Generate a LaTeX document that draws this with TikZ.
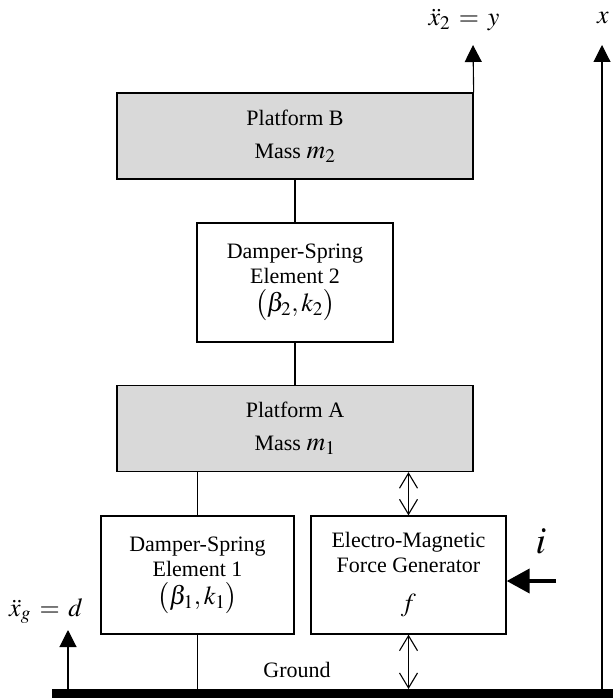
\documentclass[tikz,border=0pt]{standalone}
\usepackage{mathptmx}
\usepackage{fontspec}
\setmainfont{Liberation Serif}
\usetikzlibrary{arrows.meta}
\definecolor{platgray}{RGB}{217,217,217}
\newcommand{\mth}[1]{{\fontsize{26}{30}\selectfont$#1$}}
\begin{document}
\begin{tikzpicture}[x=1pt,y=-1pt,
  plat/.style={draw, fill=platgray, line width=1.3pt, minimum width=356pt, minimum height=86pt,
    inner sep=0pt, align=center, font=\fontsize{22}{33}\selectfont},
  blk/.style={draw, fill=white, line width=1.3pt, inner sep=0pt, align=center,
    font=\fontsize{22}{25}\selectfont},
  conn/.style={line width=1.1pt},
  dbl/.style={line width=1.1pt, {Straight Barb[length=15pt,width=18pt,line width=1.1pt]}-{Straight Barb[length=15pt,width=18pt,line width=1.1pt]}},
  up/.style={line width=1.1pt, -{Triangle[length=17pt,width=17pt]}},
  lbl/.style={inner sep=0pt, font=\fontsize{26}{30}\selectfont}
]
\useasboundingbox (0,0) rectangle (613,698);

\node[plat] (pb) at (295,136) {Platform B\\Mass \mth{m_2}};
\node[blk, minimum width=196pt, minimum height=119pt] (ds2) at (295,282.5)
  {Damper-Spring\\Element 2\\[3pt]\mth{\bigl(\beta_2,k_2\bigr)}};
\node[plat] (pa) at (295,428.5) {Platform A\\Mass \mth{m_1}};
\node[blk, minimum width=193pt, minimum height=118pt] (ds1) at (197.5,575)
  {Damper-Spring\\Element 1\\[3pt]\mth{\bigl(\beta_1,k_1\bigr)}};
\node[blk, minimum width=195pt, minimum height=118pt] (emf) at (408.5,575)
  {Electro-Magnetic\\Force Generator\\[14pt]\mth{f}};
\node[fill=black, inner sep=0pt, minimum width=561pt, minimum height=9pt, anchor=north west] (gnd) at (52,689) {};

\draw[conn] (pb.south) -- (ds2.north);
\draw[conn] (ds2.south) -- (pa.north);
\draw[conn] (ds1.north) -- (ds1.north |- pa.south);
\draw[conn] (ds1.south) -- (ds1.south |- gnd.north);
\draw[dbl] (emf.north |- pa.south) -- (emf.north);
\draw[dbl] (emf.south) -- (emf.south |- gnd.north);

\coordinate (ytip) at (473,45);
\draw[up] (pb.north east) -- (ytip);
\coordinate (xbot) at (602,689);
\coordinate (xtip) at (602,45);
\draw[up] (xbot) -- (xtip);
\coordinate (gbot) at (68,689);
\coordinate (gtip) at (68,630);
\draw[up] (gbot) -- (gtip);
\coordinate (istart) at (556,581);
\draw[line width=4pt, -{Triangle[length=23pt,width=24pt]}] (istart) -- (emf.east |- istart);

\node[lbl] (ylab) at (464,20) {$\ddot{x}_2 \,=\, y$};
\node[lbl] (xlab) at (603,18) {$x$};
\node[lbl] (xglab) at (46,611) {$\ddot{x}_g \,=\, d$};
\node[lbl, font=\fontsize{38}{42}\selectfont] (ilab) at (541,541) {$i$};
\node[inner sep=0pt, font=\fontsize{22}{26}\selectfont] (glab) at (297,670) {Ground};
\end{tikzpicture}
\end{document}
